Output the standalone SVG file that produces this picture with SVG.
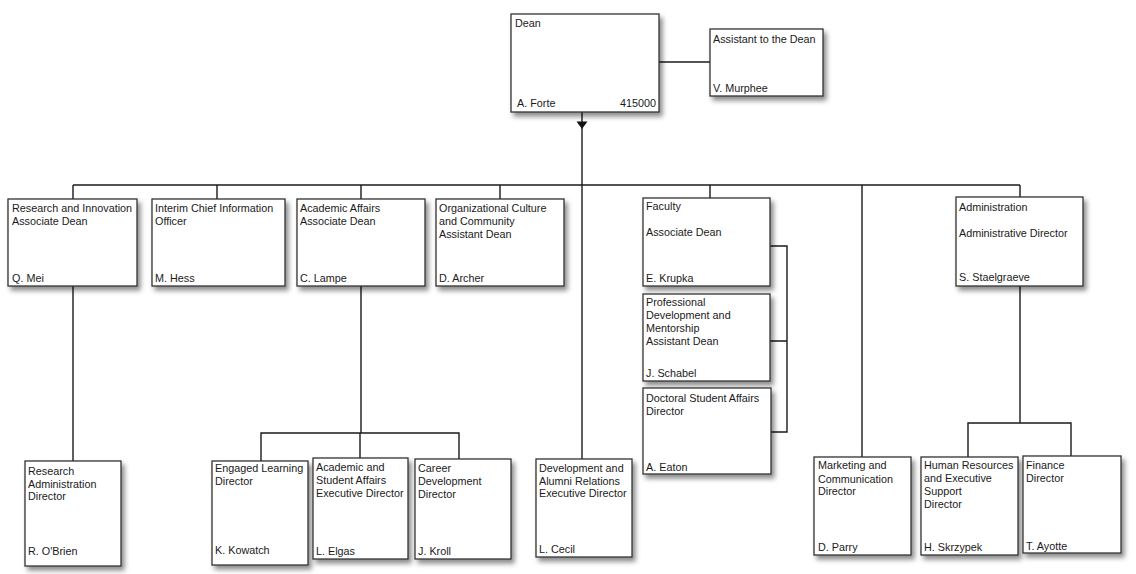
<svg xmlns="http://www.w3.org/2000/svg" width="1136" height="574" viewBox="0 0 1136 574">
<defs>
<filter id="sh" x="-10%" y="-10%" width="130%" height="135%">
<feDropShadow dx="3" dy="4" stdDeviation="2.6" flood-color="#000" flood-opacity="0.45"/>
</filter>
</defs>
<style>
.box{fill:#fff;stroke:#333;stroke-width:1.3;filter:url(#sh)}
text{font-family:"Liberation Sans",Arial,sans-serif;font-size:10.8px;fill:#1a1a1a}
.c{fill:none;stroke:#1a1a1a;stroke-width:1.4}
.r{text-anchor:end}
</style>
<rect width="1136" height="574" fill="#fff"/>
<g id="connectors">
<path class="c" d="M659,62H710"/>
<path class="c" d="M582,112V459"/>
<polygon points="576.5,121.5 587.5,121.5 582,129" fill="#111"/>
<path class="c" d="M73,185H1020"/>
<path class="c" d="M73,185V199M217,185V199M361,185V199M500,185V199M710,185V198M862,185V457M1020,185V197"/>
<path class="c" d="M73,286V461"/>
<path class="c" d="M361,286V433M261,461V433H459V459M360,433V458"/>
<path class="c" d="M770,246H787V432H771M770,341H787"/>
<path class="c" d="M1020,286V423M968,457V423H1071V456"/>
</g>
<g id="dean"><rect class="box" x="511" y="14" width="148" height="98"/><text x="515" y="27">Dean</text><text x="517" y="107">A. Forte</text><text class="r" x="656" y="107">415000</text></g>
<g id="assistant"><rect class="box" x="710" y="29" width="113" height="67"/><text x="713" y="43">Assistant to the Dean</text><text x="713" y="92">V. Murphee</text></g>
<g id="research-innovation"><rect class="box" x="8" y="199" width="129" height="87"/><text x="12" y="211.5">Research and Innovation</text><text x="12" y="224.5">Associate Dean</text><text x="12" y="282">Q. Mei</text></g>
<g id="cio"><rect class="box" x="152" y="199" width="133" height="87"/><text x="155" y="211.5">Interim Chief Information</text><text x="155" y="224.5">Officer</text><text x="155" y="282">M. Hess</text></g>
<g id="academic-affairs"><rect class="box" x="297" y="199" width="128" height="87"/><text x="300" y="211.5">Academic Affairs</text><text x="300" y="224.5">Associate Dean</text><text x="300" y="281.5">C. Lampe</text></g>
<g id="org-culture"><rect class="box" x="436" y="199" width="128" height="87"/><text x="439" y="211.5">Organizational Culture</text><text x="439" y="224.5">and Community</text><text x="439" y="237.5">Assistant Dean</text><text x="439" y="281.5">D. Archer</text></g>
<g id="faculty"><rect class="box" x="643" y="198" width="127" height="88"/><text x="646" y="210">Faculty</text><text x="646" y="235.5">Associate Dean</text><text x="646" y="281.5">E. Krupka</text></g>
<g id="prof-dev"><rect class="box" x="643" y="294" width="127" height="87"/><text x="646" y="306">Professional</text><text x="646" y="319">Development and</text><text x="646" y="332">Mentorship</text><text x="646" y="345">Assistant Dean</text><text x="646" y="376.5">J. Schabel</text></g>
<g id="doctoral"><rect class="box" x="643" y="388" width="128" height="86"/><text x="646" y="402">Doctoral Student Affairs</text><text x="646" y="415">Director</text><text x="646" y="470.5">A. Eaton</text></g>
<g id="administration"><rect class="box" x="956" y="197" width="127" height="89"/><text x="959" y="210.5">Administration</text><text x="959" y="237">Administrative Director</text><text x="959" y="281">S. Staelgraeve</text></g>
<g id="research-admin"><rect class="box" x="25" y="461" width="96" height="105"/><text x="28" y="475">Research</text><text x="28" y="487.5">Administration</text><text x="28" y="500">Director</text><text x="28" y="554.5">R. O'Brien</text></g>
<g id="engaged"><rect class="box" x="212" y="461" width="96" height="104"/><text x="215" y="472">Engaged Learning</text><text x="215" y="485">Director</text><text x="215" y="554">K. Kowatch</text></g>
<g id="asa"><rect class="box" x="313" y="458" width="95" height="101"/><text x="316" y="470.5">Academic and</text><text x="316" y="484">Student Affairs</text><text x="316" y="497">Executive Director</text><text x="316" y="555">L. Elgas</text></g>
<g id="career"><rect class="box" x="415" y="459" width="96" height="100"/><text x="418" y="472">Career</text><text x="418" y="485">Development</text><text x="418" y="497.5">Director</text><text x="418" y="554.5">J. Kroll</text></g>
<g id="dev-alumni"><rect class="box" x="536" y="459" width="96" height="98"/><text x="539" y="471.5">Development and</text><text x="539" y="484.5">Alumni Relations</text><text x="539" y="497">Executive Director</text><text x="539" y="553">L. Cecil</text></g>
<g id="marketing"><rect class="box" x="814" y="457" width="97" height="98"/><text x="818" y="469">Marketing and</text><text x="818" y="482.5">Communication</text><text x="818" y="495">Director</text><text x="818" y="550.5">D. Parry</text></g>
<g id="hr"><rect class="box" x="921" y="457" width="97" height="98"/><text x="924" y="469">Human Resources</text><text x="924" y="482">and Executive</text><text x="924" y="495">Support</text><text x="924" y="508">Director</text><text x="924" y="550.5">H. Skrzypek</text></g>
<g id="finance"><rect class="box" x="1023" y="456" width="98" height="97"/><text x="1026" y="469">Finance</text><text x="1026" y="482">Director</text><text x="1026" y="549.5">T. Ayotte</text></g>
</svg>
